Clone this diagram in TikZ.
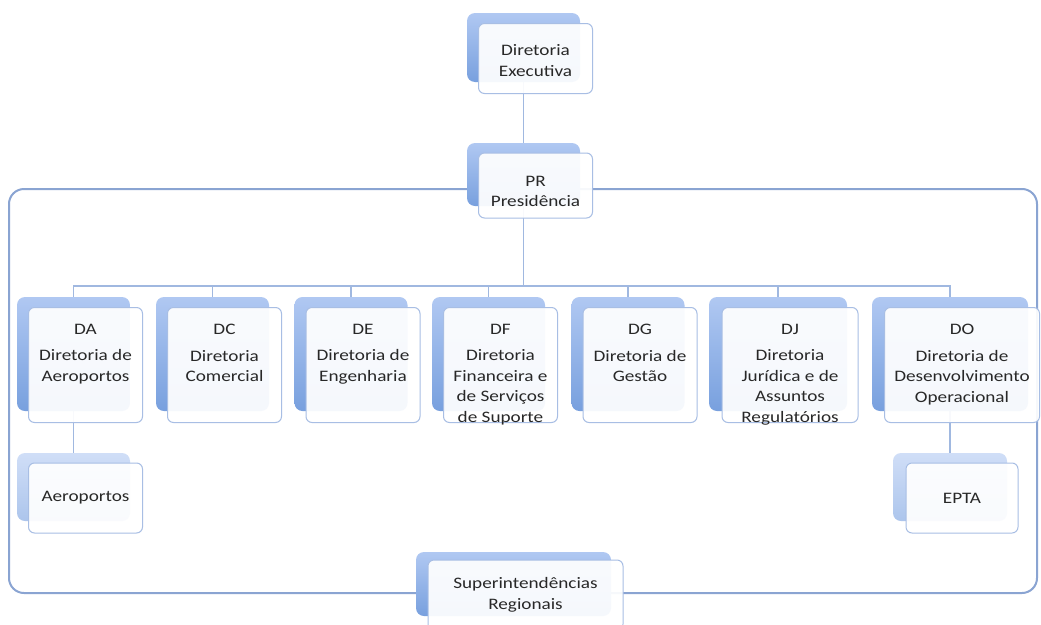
\documentclass[tikz,border=0pt]{standalone}
\usepackage{fontspec}
\setmainfont{Carlito}[FakeStretch=1.2]
\usepackage{tikz}
\usetikzlibrary{backgrounds}
\definecolor{backtop}{RGB}{176,200,242}
\definecolor{backbot}{RGB}{120,160,222}
\definecolor{subtop}{RGB}{208,222,247}
\definecolor{subbot}{RGB}{172,197,236}
\definecolor{boxline}{RGB}{168,190,228}
\definecolor{frameline}{RGB}{138,164,210}
\definecolor{connline}{RGB}{160,184,224}
\definecolor{txt}{RGB}{40,40,40}

\begin{document}
\begin{tikzpicture}[x=1pt,y=-1pt]
\tikzstyle{backbox}=[rounded corners=8pt,top color=backtop,bottom color=backbot,minimum width=113pt,minimum height=114pt,inner sep=0pt]
\tikzstyle{subback}=[backbox,top color=subtop,bottom color=subbot,minimum height=68pt]
\tikzstyle{frontbox}=[rounded corners=6pt,draw=boxline,line width=1pt,fill=white,fill opacity=0.93,minimum width=114pt,minimum height=115pt,inner sep=0pt,xshift=12pt,yshift=-11pt]
\tikzstyle{dirtext}=[align=center,inner sep=0pt,text=txt,font=\fontsize{16}{20.5}\selectfont]
\tikzstyle{conn}=[draw=connline,line width=1.2pt]
\useasboundingbox (0,0) rectangle (1041,624);

% top of the chart
\node[backbox,minimum height=69pt] (exB) at (523.5,47.5) {};
\node[frontbox,minimum height=70pt] (ex) at (exB) {};
\node[dirtext,yshift=-2pt] (exT) at (ex) {Diretoria\\Executiva};
\node[backbox,minimum height=63pt] (prB) at (523.5,174.5) {};
\node[frontbox,minimum height=65pt] (pr) at (prB) {};
\node[dirtext,yshift=-6pt] (prT) at (pr) {PR\\Presidência};

% diretorias
\node[backbox] (daB) at (73.5,354) {};
\node[frontbox] (da) at (daB) {};
\node[dirtext,anchor=north] (daT) at ([yshift=-17pt]da.north) {DA\\[6pt]Diretoria de\\Aeroportos};
\node[backbox] (dcB) at (212.5,354) {};
\node[frontbox] (dc) at (dcB) {};
\node[dirtext,anchor=north] (dcT) at ([yshift=-17pt]dc.north) {DC\\[6pt]Diretoria\\Comercial};
\node[backbox] (deB) at (351,354) {};
\node[frontbox] (de) at (deB) {};
\node[dirtext,anchor=north] (deT) at ([yshift=-17pt]de.north) {DE\\[6pt]Diretoria de\\Engenharia};
\node[backbox] (dfB) at (488.5,354) {};
\node[frontbox] (df) at (dfB) {};
\node[dirtext,anchor=north] (dfT) at ([yshift=-17pt]df.north) {DF\\[6pt]Diretoria\\Financeira e\\de Serviços\\de Suporte};
\node[backbox] (dgB) at (628,354) {};
\node[frontbox] (dg) at (dgB) {};
\node[dirtext,anchor=north] (dgT) at ([yshift=-17pt]dg.north) {DG\\[6pt]Diretoria de\\Gestão};
\node[backbox,minimum width=138pt] (djB) at (778,354) {};
\node[frontbox,minimum width=136pt] (dj) at (djB) {};
\node[dirtext,anchor=north] (djT) at ([yshift=-17pt]dj.north) {DJ\\[6pt]Diretoria\\Jurídica e de\\Assuntos\\Regulatórios};
\node[backbox,minimum width=156pt] (doB) at (950,354) {};
\node[frontbox,minimum width=155pt] (do) at (doB) {};
\node[dirtext,anchor=north] (doT) at ([yshift=-17pt]do.north) {DO\\[6pt]Diretoria de\\Desenvolvimento\\Operacional};

% units below
\node[subback] (aeB) at (73.5,487) {};
\node[frontbox,minimum height=70pt] (ae) at (aeB) {};
\node[dirtext] (aeT) at (ae) {Aeroportos};
\node[subback,minimum width=114pt] (epB) at (950,487) {};
\node[frontbox,minimum width=112pt,minimum height=70pt] (ep) at (epB) {};
\node[dirtext] (epT) at (ep) {EPTA};
\node[backbox,minimum width=195pt,minimum height=64pt] (srB) at (513.5,584) {};
\node[frontbox,minimum width=195pt,minimum height=70pt] (sr) at (srB) {};
\node[dirtext] (srT) at (sr) {Superintendências\\Regionais};

\begin{pgfonlayer}{background}
\fill[white] (0,0) rectangle (1041,624);
\draw[frameline,line width=2pt,rounded corners=15pt] (9,189) rectangle (1037,593);
\coordinate (bus) at (523.5,286);
\draw[conn] (exB) -- (prB);
\draw[conn] (prB) -- (bus);
\draw[conn] (daB) |- (bus) -| (doB);
\draw[conn] (dcB) -- (dcB |- bus);
\draw[conn] (deB) -- (deB |- bus);
\draw[conn] (dfB) -- (dfB |- bus);
\draw[conn] (dgB) -- (dgB |- bus);
\draw[conn] (djB) -- (djB |- bus);
\draw[conn] (daB) -- (aeB);
\draw[conn] (doB) -- (epB);
\end{pgfonlayer}
\end{tikzpicture}
\end{document}
